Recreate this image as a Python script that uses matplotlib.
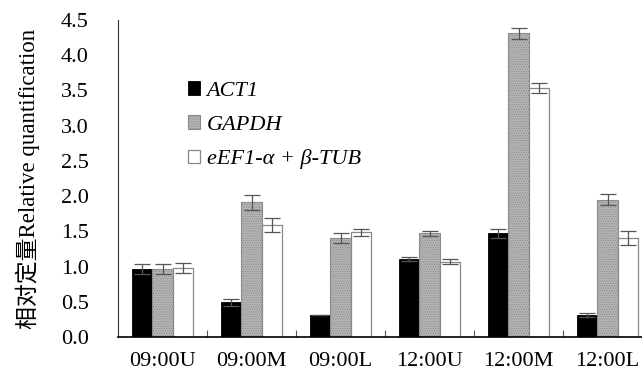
import numpy as np
import matplotlib
matplotlib.use("Agg")
import matplotlib.pyplot as plt

categories = ["09:00U", "09:00M", "09:00L", "12:00U", "12:00M", "12:00L"]
series_names = ["ACT1", "GAPDH", "eEF1-α + β-TUB"]
act1 = [0.97, 0.49, 0.31, 1.11, 1.47, 0.31]
gapdh = [0.97, 1.91, 1.40, 1.47, 4.31, 1.95]
eef = [0.98, 1.59, 1.49, 1.07, 3.54, 1.40]
act1_err = [0.07, 0.05, 0.0, 0.03, 0.07, 0.03]
gapdh_err = [0.07, 0.11, 0.07, 0.04, 0.08, 0.08]
eef_err = [0.07, 0.10, 0.05, 0.04, 0.07, 0.10]
yticks = [0.0, 0.5, 1.0, 1.5, 2.0, 2.5, 3.0, 3.5, 4.0, 4.5]

plt.rcParams['font.family'] = ['Liberation Serif', 'Noto Sans CJK SC']
plt.rcParams['hatch.linewidth'] = 0.5

fig = plt.figure(figsize=(6.42, 3.81), dpi=100)
ax = fig.add_axes([118/642, 44/381, 1 - 118/642, 317/381])

x = np.arange(len(categories))
w = 0.225
ekw = dict(ecolor='#555555', elinewidth=0.9, capsize=6, capthick=0.9)
ax.bar(x - w, act1, w, color='black', edgecolor='black', linewidth=0.6,
       yerr=act1_err, error_kw=ekw, label=series_names[0])
ax.bar(x, gapdh, w, color='#b4b4b4', edgecolor='#8a8a8a', linewidth=0.8,
       hatch='.......', yerr=gapdh_err, error_kw=ekw, label=series_names[1])
ax.bar(x + w, eef, w, color='white', edgecolor='#888888', linewidth=0.9,
       yerr=eef_err, error_kw=ekw, label=series_names[2])

ax.set_xlim(-0.5, (642 - 118) / 89.0 - 0.5)
ax.set_ylim(0, 4.5)
ax.set_yticks(yticks)
ax.set_yticklabels([f"{v:.1f}" for v in yticks])
ax.set_xticks(x)
ax.set_xticklabels(categories)
ax.set_xticks(x[:-1] + 0.5, minor=True)
ax.tick_params(axis='x', which='major', length=0, pad=11, labelsize=16)
ax.tick_params(axis='x', which='minor', direction='in', length=5, width=0.8, color='#555555')
ax.tick_params(axis='y', length=0, pad=21, labelsize=16)
for s in ['top', 'right']:
    ax.spines[s].set_visible(False)
ax.spines['left'].set_color('#333333')
ax.spines['bottom'].set_linewidth(1.2)

ax.set_ylabel("相对定量Relative quantification", fontsize=16.5, labelpad=15)

leg = ax.legend(loc='upper left', bbox_to_anchor=(0.095, 0.87), frameon=False,
                prop={'style': 'italic', 'size': 16}, handlelength=0.55, handleheight=0.55,
                handletextpad=0.3, labelspacing=0.65)

fig.savefig("out.png", dpi=100)
